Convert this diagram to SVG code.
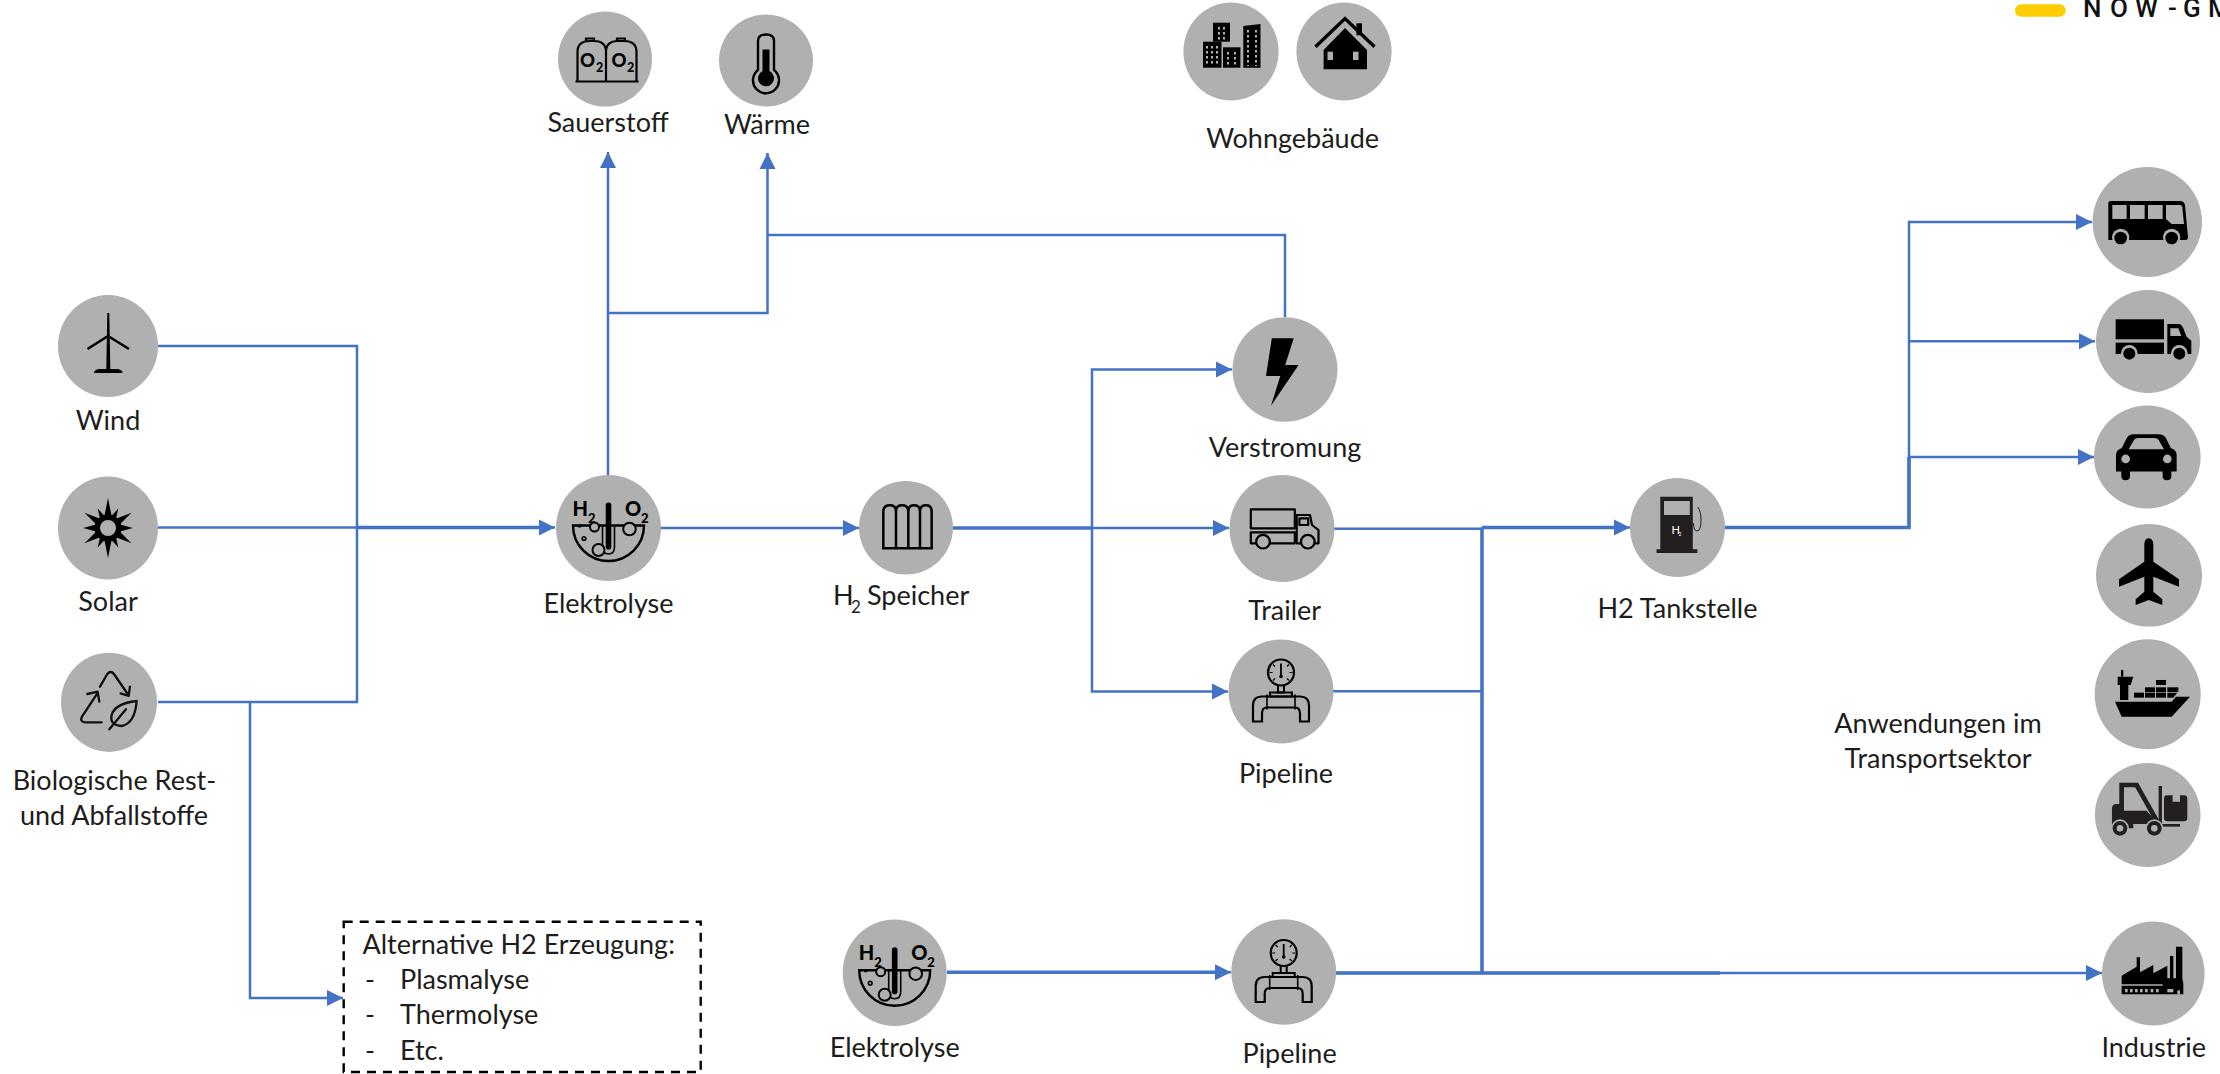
<svg xmlns="http://www.w3.org/2000/svg" width="2220" height="1074" viewBox="0 0 2220 1074">
<style>
text{font-family:"Lato","Carlito","Open Sans",sans-serif;font-size:27px;fill:#1d1d1b}
.m{text-anchor:middle}
.b{fill:#b0b0b0}
.c{fill:none;stroke:#4472c4;stroke-width:2.5}
.t{stroke-width:3.6}
.k{fill:#000}
.g{fill:#b0b0b0}
.o{fill:none;stroke:#000;stroke-width:2.2;stroke-linejoin:round}
.ic{font-weight:900;fill:#000}
</style>
<defs>
<marker id="arr" markerUnits="userSpaceOnUse" markerWidth="17" markerHeight="18" refX="16" refY="8.5" orient="auto"><polygon points="0,0.5 16,8.5 0,16.5" fill="#4472c4"/></marker>
<g id="ico-el">
<path d="M-35.5,-2.5 H35.5 A35.5,35.5 0 0 1 -35.5,-2.5 Z" fill="none" stroke="#000" stroke-width="2.4"/>
<rect x="-2.8" y="-25.5" width="5.6" height="47" rx="2.8" fill="#000"/>
<path d="M-6,-3 V19 Q-6,26 0,26 Q6,26 6,19 V-3" fill="none" stroke="#000" stroke-width="1.6"/>
<circle cx="-14" cy="-1" r="4.5" fill="#b0b0b0" stroke="#000" stroke-width="2"/>
<circle cx="21" cy="1" r="6.3" fill="#b0b0b0" stroke="#000" stroke-width="2"/>
<circle cx="-10" cy="22" r="6" fill="#b0b0b0" stroke="#000" stroke-width="2"/>
<circle cx="-24.5" cy="10.5" r="1.8" fill="none" stroke="#000" stroke-width="1.6"/>
<circle cx="-29" cy="-2" r="1.8" fill="#000"/>
<text x="-36" y="-12.5" class="ic" style="font-size:20px">H</text>
<text x="-20.5" y="-5.5" class="ic" style="font-size:13px">2</text>
<text x="16.5" y="-12.5" class="ic" style="font-size:20px">O</text>
<text x="32.5" y="-5.5" class="ic" style="font-size:13px">2</text>
</g>
<g id="ico-pipe">
<circle cx="0" cy="-19" r="13" fill="none" stroke="#000" stroke-width="2.2"/>
<path d="M0,-28 V-15" stroke="#000" stroke-width="1.8"/><circle cx="0" cy="-15" r="1.8" fill="#000"/>
<path d="M-11.5,-19 h3 M8.5,-19 h3 M-8,-27 l2,2 M8,-27 l-2,2 M-8,-11 l2,-2 M8,-11 l-2,-2" stroke="#000" stroke-width="1.2"/>
<path d="M-3,-6 V1 H3 V-6" fill="none" stroke="#000" stroke-width="2"/>
<path d="M-11,1 H11 V5 H-11 Z" fill="none" stroke="#000" stroke-width="2"/>
<path d="M-28,30 V14 Q-28,5 -19,5 H19 Q28,5 28,14 V30 H19 V22 Q19,16 14,16 H-14 Q-19,16 -19,22 V30 Z" fill="none" stroke="#000" stroke-width="2.2"/>
<path d="M-14,3 V18 M14,3 V18" stroke="#000" stroke-width="1.6"/>
</g>
</defs>

<g id="connectors">
<path class="c" d="M158,346 H357 V527.5"/>
<path class="c" d="M158,702 H357 V527.5"/>
<path class="c" d="M158,527.5 H357"/>
<path class="c t" d="M357,527.5 H541"/>
<path class="c" d="M357,527.5 H555" marker-end="url(#arr)"/>
<path class="c" d="M250,702 V998 H343" marker-end="url(#arr)"/>
<path class="c" d="M608,475 V152" marker-end="url(#arr)"/>
<path class="c" d="M608,313 H767.5 V153" marker-end="url(#arr)"/>
<path class="c" d="M1285,317 V235 H767.5"/>
<path class="c" d="M661,528 H859" marker-end="url(#arr)"/>
<path class="c t" d="M953,528 H1092"/>
<path class="c" d="M1092,528 H1229" marker-end="url(#arr)"/>
<path class="c" d="M1092,528 V369.5 H1232" marker-end="url(#arr)"/>
<path class="c" d="M1092,528 V691.5 H1228" marker-end="url(#arr)"/>
<path class="c" d="M1334,528.7 H1482"/>
<path class="c" d="M1333,691.3 H1482"/>
<path class="c t" d="M1482,527.5 V973"/>
<path class="c t" d="M1482,527.5 H1616"/>
<path class="c" d="M1482,527.5 H1630" marker-end="url(#arr)"/>
<path class="c t" d="M1725,527.5 H1909 V457"/>
<path class="c" d="M1909,527.5 V222 H2092" marker-end="url(#arr)"/>
<path class="c" d="M1909,341.3 H2095" marker-end="url(#arr)"/>
<path class="c" d="M1909,457 H2094" marker-end="url(#arr)"/>
<path class="c t" d="M947,972.3 H1216"/>
<path class="c" d="M947,972.3 H1231" marker-end="url(#arr)"/>
<path class="c t" d="M1336,973 H1720"/>
<path class="c" d="M1336,973 H2102" marker-end="url(#arr)"/>
</g>

<g id="logo">
<rect x="2015" y="4.3" width="50.7" height="12.4" rx="6.2" fill="#ffcc00"/>
<text x="2083 2110 2135 2168 2183 2208" y="17" style="font-family:'Roboto',sans-serif;font-size:26px;font-weight:500;fill:#111">NOW-GM</text>
</g>

<g id="node-wind">
<ellipse class="b" cx="108" cy="346" rx="50" ry="51"/>
<path class="k" d="M107.3,313 L109.3,313 L110.3,369 H118 Q122.6,370 122.6,373 H94 Q94,370 98.6,369 H106.3 Z"/>
<path d="M108,336 L87.5,349 M108,336 L129,349" stroke="#000" stroke-width="2.6" fill="none"/>
<text class="m" x="108" y="430">Wind</text>
</g>

<g id="node-solar">
<ellipse class="b" cx="108" cy="528" rx="50" ry="51.5"/>
<g transform="translate(108,528)">
<circle r="13.5" class="k"/>
<g class="k">
<polygon points="-4,-10 0,-30 4,-10"/>
<polygon points="-4,10 0,30 4,10"/>
<polygon points="-10,-4 -25,0 -10,4"/>
<polygon points="10,-4 25,0 10,4"/>
<polygon points="-3.5,-11 0,-28 3.5,-11" transform="rotate(57)"/>
<polygon points="-3.5,-11 0,-28 3.5,-11" transform="rotate(123)"/>
<polygon points="-3.5,-11 0,-28 3.5,-11" transform="rotate(237)"/>
<polygon points="-3.5,-11 0,-28 3.5,-11" transform="rotate(303)"/>
<polygon points="-3,-11 0,-22 3,-11" transform="rotate(28)"/>
<polygon points="-3,-11 0,-22 3,-11" transform="rotate(152)"/>
<polygon points="-3,-11 0,-22 3,-11" transform="rotate(208)"/>
<polygon points="-3,-11 0,-22 3,-11" transform="rotate(332)"/>
</g>
<circle r="8" class="g"/>
</g>
<text class="m" x="108" y="611">Solar</text>
</g>

<g id="node-bio">
<ellipse class="b" cx="109" cy="702.3" rx="48" ry="49.6"/>
<g transform="translate(0,640) scale(.3333)" fill="none" stroke="#111" stroke-width="7" stroke-linecap="round" stroke-linejoin="round">
<path d="M300,140 L322,102 Q332,90 342,102 L385,165 M362,160 L386,168 L390,140"/>
<path d="M305,247 H255 Q238,245 246,230 L292,160 M262,162 L293,155 L298,185"/>
<path d="M410,183 Q345,190 335,225 Q328,255 365,258 Q405,250 410,183 Z M328,268 L378,208"/>
</g>
<text class="m" x="114.5" y="790">Biologische Rest-</text>
<text class="m" x="114" y="825">und Abfallstoffe</text>
</g>

<g id="node-elektrolyse">
<ellipse class="b" cx="608.5" cy="528" rx="52.5" ry="53"/>
<use href="#ico-el" x="608.5" y="528"/>
<text class="m" x="608.5" y="613">Elektrolyse</text>
</g>

<g id="node-sauerstoff">
<ellipse class="b" cx="605" cy="59" rx="47" ry="47.5"/>
<path class="o" d="M577.5,81.5 V52 Q577.5,41 590,41 H594 Q606,41 606,52 V81.5 M606,52 Q606,41 618,41 H624 Q636.5,41 636.5,52 V81.5 M575.5,81.5 H638.5 M586,41 V38.5 H594 V41 M617,41 V38.5 H625 V41"/>
<text x="580" y="66.7" class="ic" style="font-size:18.5px">O</text><text x="596" y="71.7" class="ic" style="font-size:12.5px">2</text>
<text x="611.5" y="66.7" class="ic" style="font-size:18.5px">O</text><text x="627" y="71.7" class="ic" style="font-size:12.5px">2</text>
<text class="m" x="608" y="132">Sauerstoff</text>
</g>

<g id="node-waerme">
<ellipse class="b" cx="766" cy="60.5" rx="47" ry="46"/>
<path class="o" style="stroke-width:2.4" d="M758,70 V41 Q758,34.5 766,34.5 Q774,34.5 774,41 V70 A13,13 0 1 1 758,70 Z"/>
<path class="k" d="M762.5,49.5 H769.5 V71 A8,8 0 1 1 762.5,71 Z"/>
<text class="m" x="767" y="134">Wärme</text>
</g>

<g id="node-wohngebaeude">
<ellipse class="b" cx="1231" cy="51.5" rx="47.6" ry="49"/>
<ellipse class="b" cx="1344" cy="51.5" rx="47.6" ry="49"/>
<g class="k">
<rect x="1203" y="41.7" width="18.5" height="26"/>
<rect x="1213" y="22.7" width="17" height="19"/>
<rect x="1223" y="47.3" width="17.4" height="20.4"/>
<path d="M1243.3,26 L1260.5,24 V67.7 H1243.3 Z"/>
</g>
<g stroke="#b0b0b0" stroke-width="2" stroke-dasharray="2.4,2.6" fill="none">
<path d="M1207,46 V66 M1212,46 V66 M1217,46 V66"/>
<path d="M1219,27 V40 M1224,27 V40"/>
<path d="M1228,52 V66 M1235,52 V66"/>
<path d="M1248,30 V66 M1256,30 V66"/>
</g>
<path class="k" d="M1345,28 L1367,50 V69.3 H1323.6 V50 Z"/>
<path d="M1315.5,46.7 L1345,18.5 L1374.5,46.7" fill="none" stroke="#000" stroke-width="3.4"/>
<rect class="k" x="1356.4" y="23.3" width="5.6" height="12"/>
<rect class="g" x="1327.5" y="51.7" width="5.5" height="8.3"/>
<rect class="g" x="1353" y="51.7" width="5.5" height="8.3"/>
<text class="m" x="1292.6" y="148">Wohngebäude</text>
</g>

<g id="node-speicher">
<ellipse class="b" cx="906" cy="527.7" rx="47" ry="46.8"/>
<g transform="translate(820,470) scale(.3333)" fill="none" stroke="#000" stroke-width="7.5">
<path d="M190,235 V125 Q190,106 210,106 Q228,106 228,125 V235 M228,125 Q228,106 246,106 Q265,106 265,125 V235 M265,125 Q265,106 282,106 Q300,106 300,125 V235 M300,125 Q300,106 318,106 Q335,106 335,125 V235 M186,235 H339"/>
</g>
<text x="833" y="605">H</text><text x="851" y="613" style="font-size:17px">2</text><text x="867" y="605">Speicher</text>
</g>

<g id="node-verstromung">
<ellipse class="b" cx="1285" cy="369.5" rx="52.5" ry="52.3"/>
<polygon class="k" points="1271.8,338.3 1293.7,338.3 1285.2,365 1298.6,365 1271,405.7 1280.3,376 1266,376"/>
<text class="m" x="1285" y="457">Verstromung</text>
</g>

<g id="node-trailer">
<ellipse class="b" cx="1282" cy="528.5" rx="52.5" ry="53.5"/>
<g class="o">
<rect x="1250.8" y="509.3" width="44" height="19"/>
<path d="M1250.8,532.3 H1294.8 V543.3 H1250.8 Z"/>
<path d="M1296.7,515 H1310 L1312,525 L1318.5,530 V543.3 H1296.7 Z"/>
<rect x="1299.4" y="518.3" width="8.8" height="6.7"/>
<circle cx="1263" cy="541.7" r="6.8" fill="#b0b0b0"/>
<circle cx="1307.8" cy="541.7" r="6.8" fill="#b0b0b0"/>
</g>
<text class="m" x="1284.7" y="620">Trailer</text>
</g>

<g id="node-pipeline">
<ellipse class="b" cx="1281" cy="691.5" rx="52.5" ry="52"/>
<use href="#ico-pipe" x="1281" y="691.5"/>
<text class="m" x="1286" y="783">Pipeline</text>
</g>

<g id="node-tankstelle">
<ellipse class="b" cx="1677.5" cy="527.5" rx="47.5" ry="49.5"/>
<path fill="#231f20" d="M1660.3,496.7 H1692.8 V549.3 H1697.4 V553 H1656.5 V549.3 H1660.3 Z"/>
<rect class="g" x="1664" y="501" width="25.8" height="14"/>
<text x="1671.5" y="534" style="font-size:11px;fill:#fff">H</text><text x="1678.5" y="536" style="font-size:5px;fill:#fff">2</text>
<path d="M1697.8,507 Q1701,511 1701,520 Q1701,531 1697,531 Q1693.5,531 1693.5,523" fill="none" stroke="#231f20" stroke-width="1"/>
<text class="m" x="1677.5" y="618">H2 Tankstelle</text>
</g>

<g id="node-bus">
<ellipse class="b" cx="2147.3" cy="222" rx="54.7" ry="55"/>
<g transform="translate(1980,0) scale(.3333)">
<path class="k" d="M385,610 Q385,603 392,603 H600 Q612,603 615,615 L624,712 Q624,720 616,720 H385 Z"/>
<rect class="g" x="397" y="615" width="43" height="42"/>
<rect class="g" x="450" y="615" width="44" height="42"/>
<rect class="g" x="504" y="615" width="44" height="42"/>
<path class="g" d="M558,615 H600 Q606,615 607,622 L612,672 H575 L558,657 Z"/>
<circle class="g" cx="422" cy="712" r="26"/><circle class="k" cx="422" cy="714" r="19"/>
<circle class="g" cx="575" cy="712" r="26"/><circle class="k" cx="575" cy="714" r="19"/>
</g>
</g>

<g id="node-lkw">
<ellipse class="b" cx="2148" cy="341.5" rx="52" ry="51.5"/>
<g transform="translate(1980,0) scale(.3333)">
<rect class="k" x="407" y="958" width="145" height="60"/>
<rect class="k" x="407" y="1028" width="145" height="34"/>
<path class="k" d="M562,972 H595 Q605,972 610,985 L620,1010 L634,1022 V1062 H562 Z"/>
<path class="g" d="M571,985 H595 L604,1008 H571 Z"/>
<circle class="g" cx="448" cy="1060" r="25"/><circle class="k" cx="448" cy="1061" r="18"/>
<circle class="g" cx="598" cy="1060" r="25"/><circle class="k" cx="598" cy="1061" r="18"/>
</g>
</g>

<g id="node-pkw">
<ellipse class="b" cx="2147.3" cy="457" rx="53.3" ry="51.5"/>
<g transform="translate(1980,0) scale(.3333)">
<path class="k" d="M408,1365 Q408,1350 425,1345 L440,1315 Q446,1303 462,1303 H535 Q552,1303 558,1315 L573,1345 Q590,1350 590,1365 V1415 H574 V1430 Q574,1441 561,1441 Q548,1441 548,1430 V1415 H450 V1430 Q450,1441 437,1441 Q424,1441 424,1430 V1415 H408 Z"/>
<path class="g" d="M446,1348 L462,1320 Q465,1314 475,1314 H523 Q533,1314 536,1320 L552,1348 Z"/>
<circle class="g" cx="437" cy="1377" r="13"/><circle class="g" cx="562" cy="1377" r="13"/>
</g>
</g>

<g id="node-flugzeug">
<ellipse class="b" cx="2149" cy="575.3" rx="53" ry="51.3"/>
<path class="k" transform="translate(2090,520) scale(.3333)" d="M176,55 C186,55 190,65 190,75 V125 L267,178 V200 L190,170 V215 L217,238 V255 L176,240 L137,255 V238 L163,215 V170 L87,200 V178 L163,125 V75 C163,65 167,55 176,55 Z"/>
</g>

<g id="node-schiff">
<ellipse class="b" cx="2147.7" cy="694.3" rx="53" ry="55"/>
<g class="k" transform="translate(2090,520) scale(.3333)">
<path d="M75,545 H245 L258,530 H300 L245,590 H95 Z"/>
<rect x="93" y="450" width="7" height="20"/>
<path d="M83,470 H130 L122,495 H115 V540 H90 V495 H83 Z"/>
<rect x="132" y="518" width="30" height="15"/>
<rect x="165" y="518" width="30" height="15"/>
<rect x="198" y="518" width="30" height="15"/>
<path d="M232,518 H262 L250,533 H232 Z"/>
<rect x="165" y="502" width="30" height="14"/>
<rect x="198" y="502" width="30" height="14"/>
<rect x="232" y="502" width="33" height="14"/>
<rect x="198" y="480" width="30" height="15"/>
</g>
</g>

<g id="node-stapler">
<ellipse class="b" cx="2147.7" cy="815" rx="52.8" ry="52"/>
<g transform="translate(1800,680) scale(.3333)" fill="#231f20">
<path d="M965,390 V315 H1010 L1072,425" fill="none" stroke="#231f20" stroke-width="14"/>
<path d="M936,445 V385 Q936,372 950,372 H972 V392 H1040 L1076,432 H1000 V445 Z"/>
<rect x="1076" y="318" width="10" height="118"/>
<rect x="1086" y="432" width="54" height="8"/>
<path d="M1092,356 Q1092,346 1102,346 H1118 V365 H1140 V346 H1152 Q1162,346 1162,356 V414 Q1162,424 1152,424 H1102 Q1092,424 1092,414 Z"/>
<circle class="g" cx="960" cy="445" r="27"/><circle cx="960" cy="445" r="22"/><circle class="g" cx="960" cy="445" r="10"/>
<circle class="g" cx="1063" cy="445" r="27"/><circle cx="1063" cy="445" r="22"/><circle class="g" cx="1063" cy="445" r="10"/>
</g>
</g>

<g id="label-transport">
<text class="m" x="1938" y="732.7">Anwendungen im</text>
<text class="m" x="1938" y="767.7">Transportsektor</text>
</g>

<g id="node-industrie">
<ellipse class="b" cx="2153.3" cy="973.5" rx="51.3" ry="52"/>
<g transform="translate(2090,915) scale(.3333)">
<path class="k" d="M95,208 V182 L140,155 V127 H150 V172 L190,150 V175 L232,152 V190 H240 V123 H250 V190 H258 V95 H277 V190 L280,205 V238 H95 V212 H218 V208 Z"/>
<g class="g">
<rect x="105" y="222" width="8" height="10"/><rect x="120" y="222" width="8" height="10"/><rect x="135" y="222" width="8" height="10"/><rect x="150" y="222" width="8" height="10"/><rect x="165" y="222" width="8" height="10"/><rect x="182" y="222" width="8" height="10"/><rect x="198" y="222" width="8" height="10"/>
<rect x="232" y="222" width="18" height="10"/>
<rect x="262" y="226" width="8" height="12"/>
</g>
</g>
<text class="m" x="2153.7" y="1057">Industrie</text>
</g>

<g id="node-alternative">
<rect x="343.7" y="921.7" width="357" height="150.3" fill="none" stroke="#000" stroke-width="2.4" stroke-dasharray="9,7"/>
<text x="362.5" y="954">Alternative H2 Erzeugung:</text>
<text x="365" y="989">-</text><text x="400" y="989">Plasmalyse</text>
<text x="365" y="1024">-</text><text x="400" y="1024">Thermolyse</text>
<text x="365" y="1060">-</text><text x="400" y="1060">Etc.</text>
</g>

<g id="node-elektrolyse-2">
<ellipse class="b" cx="894.7" cy="972.7" rx="52" ry="53.3"/>
<use href="#ico-el" x="894.7" y="972.7"/>
<text class="m" x="894.7" y="1057">Elektrolyse</text>
</g>

<g id="node-pipeline-2">
<ellipse class="b" cx="1283.7" cy="972" rx="52.4" ry="52.8"/>
<use href="#ico-pipe" x="1283.7" y="972"/>
<text class="m" x="1289.6" y="1063">Pipeline</text>
</g>
</svg>
